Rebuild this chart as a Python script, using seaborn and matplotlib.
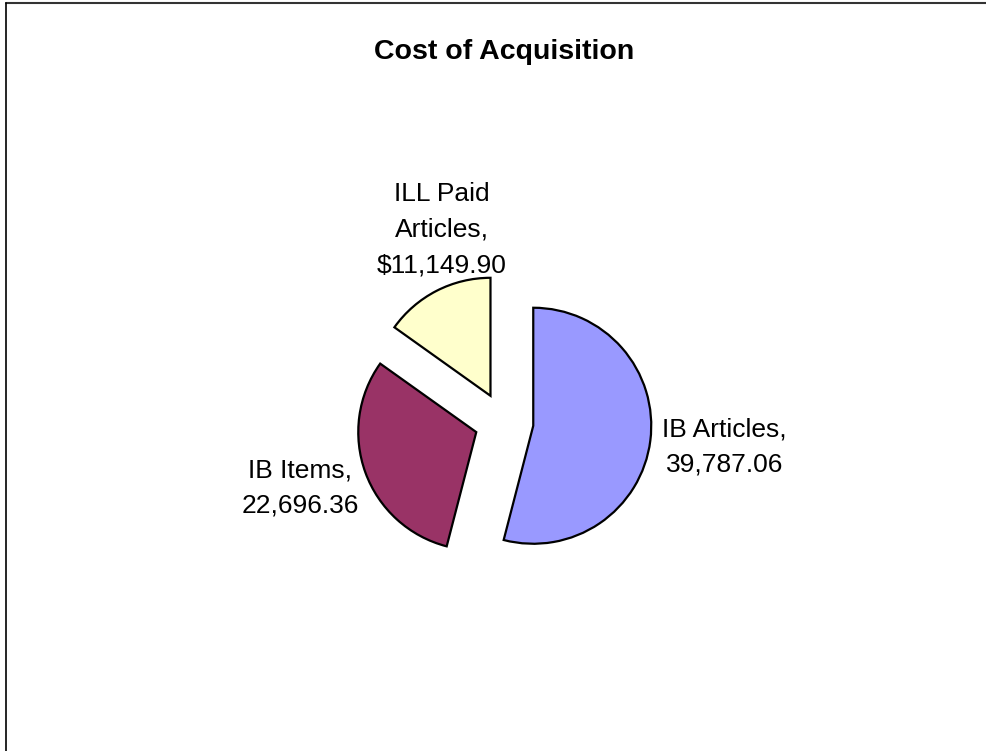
import matplotlib
matplotlib.use("Agg")
import matplotlib.pyplot as plt
import seaborn as sns
from matplotlib.lines import Line2D

# data
categories = ["ILL Paid Articles", "IB Items", "IB Articles"]
values = [11149.90, 22696.36, 39787.06]
label_texts = ["ILL Paid\nArticles,\n$11,149.90", "IB Items,\n22,696.36", "IB Articles,\n39,787.06"]
colors = ["#FFFFCC", "#993366", "#9999FF"]

sns.set_style("white")
plt.rcParams['font.family'] = ['Liberation Sans', 'DejaVu Sans']

fig = plt.figure(figsize=(9.86, 7.51), dpi=100)
ax = fig.add_axes([0.2718, 0.1238, 0.4787, 0.6285])

wedges, _ = ax.pie(values, colors=colors, startangle=90, counterclock=True,
                   explode=[0.25, 0.25, 0.25], radius=1,
                   wedgeprops=dict(edgecolor="black", linewidth=1.6))
ax.set_xlim(-2, 2)
ax.set_ylim(-2, 2)
ax.set_aspect("equal")
ax.axis("off")

# label positions (data units, centre of each text block)
label_pos = [(-0.53, 1.63), (-1.73, -0.56), (1.87, -0.21)]
for txt, (x, y) in zip(label_texts, label_pos):
    ax.text(x, y, txt, ha="center", va="center", fontsize=19,
            linespacing=1.6, color="black")

fig.text(0.511, 0.931, "Cost of Acquisition", ha="center", va="center",
         fontsize=20.5, fontweight="bold", color="black")

# chart frame (top and left edges visible)
fig.add_artist(Line2D([0.0065, 1.0], [0.9965, 0.9965], transform=fig.transFigure,
                      color="#333333", linewidth=1.5))
fig.add_artist(Line2D([0.0065, 0.0065], [0.0, 0.9965], transform=fig.transFigure,
                      color="black", linewidth=1.2))

fig.savefig("out.png", dpi=100)
